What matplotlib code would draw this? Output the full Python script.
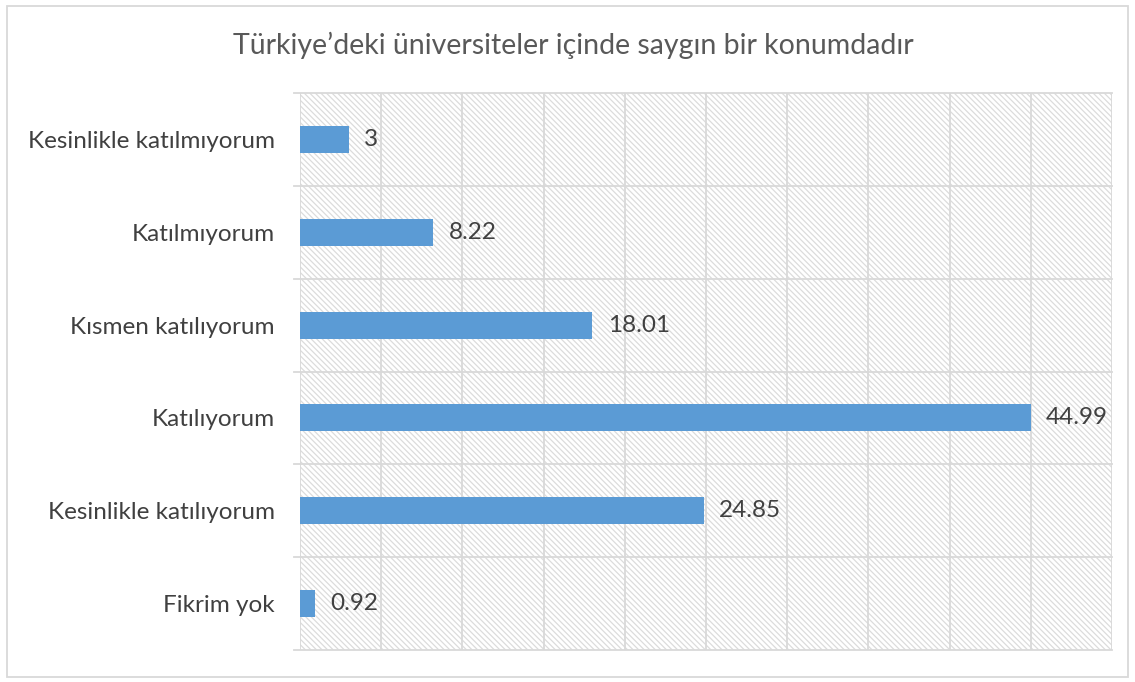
import numpy as np
import matplotlib.pyplot as plt
from matplotlib.patches import Rectangle

# donnees
categories = ["Kesinlikle katılmıyorum", "Katılmıyorum", "Kısmen katılıyorum",
              "Katılıyorum", "Kesinlikle katılıyorum", "Fikrim yok"]
valeurs = [3, 8.22, 18.01, 44.99, 24.85, 0.92]
etiquettes = ["3", "8.22", "18.01", "44.99", "24.85", "0.92"]
titre = "Türkiye’deki üniversiteler içinde saygın bir konumdadır"

plt.rcParams['font.family'] = ['Lato', 'DejaVu Sans']
plt.rcParams['hatch.linewidth'] = 0.9

fig = plt.figure(figsize=(11.35, 6.82), dpi=100)
ax = fig.add_axes([300/1135, 1-650/682, 812/1135, 557/682])

n = len(categories)
y = np.arange(n)[::-1]

# fond hachure
ax.add_patch(Rectangle((0, 0), 1, 1, transform=ax.transAxes, facecolor='white',
                       edgecolor='#dcdcdc', linewidth=0, hatch='\\' * 6, zorder=0))

ax.barh(y, valeurs, height=0.29, color='#5B9BD5', zorder=3)
for yi, v, t in zip(y, valeurs, etiquettes):
    ax.annotate(t, (v, yi), xytext=(11, 0), textcoords='offset points',
                va='center', ha='left', fontsize=17.5, color='#404040', zorder=4)

ax.set_xlim(0, 50)
ax.set_ylim(-0.5, n - 0.5)

# grille
for gx in np.arange(0, 51, 5):
    ax.axvline(gx, color='#d9d9d9', lw=1.3, zorder=1)
for gy in np.arange(-0.5, n, 1):
    ax.plot([-0.4, 50], [gy, gy], color='#d9d9d9', lw=1.3, zorder=1, clip_on=False)

ax.set_yticks(y)
ax.set_yticklabels(categories, fontsize=17.5, color='#404040')
ax.tick_params(axis='y', length=0, pad=18)
ax.set_xticks([])
for s in ax.spines.values():
    s.set_visible(False)

fig.text(573/1135, 1-45/682, titre, ha='center', va='center', fontsize=20.5, color='#595959')

# cadre
fig.add_artist(Rectangle((7/1135, 5/682), 1121/1135, 671/682, transform=fig.transFigure,
                         facecolor='none', edgecolor='#d9d9d9', lw=1.3))

plt.savefig("out.png", dpi=100)
plt.close()
